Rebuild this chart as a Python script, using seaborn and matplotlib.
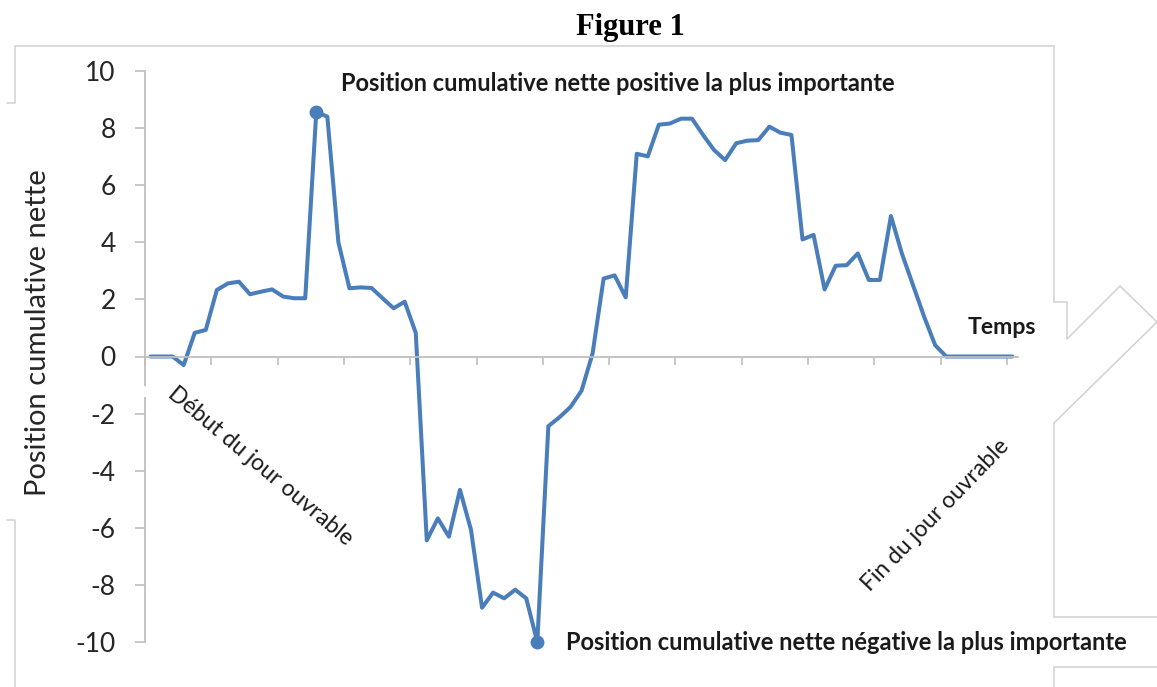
import numpy as np
import seaborn as sns
import matplotlib.pyplot as plt
from matplotlib.lines import Line2D
from matplotlib.patches import Rectangle

# cumulative net position, one value per time step over the working day
positions = [0, 0, 0, -0.3, 0.83, 0.93, 2.33, 2.56, 2.62, 2.18, 2.27, 2.35, 2.1, 2.04, 2.04,
             8.57, 8.4, 4.0, 2.39, 2.42, 2.4, 2.04, 1.69, 1.92, 0.83,
             -6.44, -5.67, -6.31, -4.67, -6.07, -8.8, -8.27, -8.47, -8.17, -8.47, -10.0,
             -2.44, -2.13, -1.77, -1.2, 0.1, 2.73, 2.84, 2.07, 7.1, 7.01, 8.12, 8.16, 8.33, 8.33,
             7.76, 7.23, 6.88, 7.47, 7.56, 7.58, 8.05, 7.84, 7.76, 4.1, 4.26, 2.35, 3.18, 3.2,
             3.61, 2.68, 2.68, 4.92, 3.6, 2.5, 1.4, 0.4, 0, 0, 0, 0, 0, 0, 0]
steps = list(range(len(positions)))
y_ticks = list(range(-10, 11, 2))

title = "Figure 1"
y_label = "Position cumulative nette"
label_max = "Position cumulative nette positive la plus importante"
label_min = "Position cumulative nette négative la plus importante"
label_time = "Temps"
label_start = "Début du jour ouvrable"
label_end = "Fin du jour ouvrable"

BLUE = "#4A7EBB"
AXIS_GREY = "#BFBFBF"
FRAME_GREY = "#D4D4D4"
TEXT = "#1a1a1a"
W, H = 1157, 687

sns.set_theme(style="white")
plt.rcParams["font.family"] = ["Lato", "DejaVu Sans"]
plt.rcParams["axes.unicode_minus"] = False


def px(x, y):
    return x / W, 1 - y / H


fig = plt.figure(figsize=(W / 100, H / 100), dpi=100)
ax = fig.add_axes([145 / W, 1 - 642 / H, 873 / W, 571 / H])

peak = int(np.argmax(positions))
trough = int(np.argmin(positions))

sns.lineplot(x=steps, y=positions, ax=ax, color=BLUE, linewidth=2.9,
             marker="o", markevery=[peak, trough], markersize=10,
             markeredgewidth=0, markerfacecolor=BLUE, clip_on=False)

ax.set_xlim(-0.5, len(positions) - 0.5)
ax.set_ylim(-10, 10)
ax.set_yticks(y_ticks)
ax.set_xticks(np.arange(-0.5, len(positions), 6))
ax.set_xlabel("")
ax.set_ylabel("")

for side in ["top", "right"]:
    ax.spines[side].set_visible(False)
ax.spines["bottom"].set_position(("data", 0))
for side in ["bottom", "left"]:
    ax.spines[side].set_color(AXIS_GREY)
    ax.spines[side].set_linewidth(1.3)

ax.tick_params(axis="x", bottom=True, direction="out", length=6, width=1.2,
               color=AXIS_GREY, labelbottom=False)
ax.tick_params(axis="y", left=True, direction="out", length=7, width=1.2,
               color=AXIS_GREY, pad=14, labelsize=19, labelcolor="#262626")

ax.annotate(label_max, xy=(peak, positions[peak]), xytext=(25, 28),
            textcoords="offset pixels", ha="left", va="center",
            fontsize=17, fontweight="bold", color=TEXT)
ax.annotate(label_min, xy=(trough, positions[trough]), xytext=(29, 0),
            textcoords="offset pixels", ha="left", va="center",
            fontsize=17, fontweight="bold", color=TEXT)
ax.text(73.9, 1.03, label_time, ha="left", va="center",
        fontsize=16.6, fontweight="bold", color=TEXT)
ax.text(9.9, -3.84, label_start, rotation=-40, rotation_mode="anchor",
        ha="center", va="center", fontsize=16.5, color=TEXT)
ax.text(71.0, -5.55, label_end, rotation=46, rotation_mode="anchor",
        ha="center", va="center", fontsize=16.5, color=TEXT)

fig.text(*px(38, 333), y_label, rotation=90, ha="center", va="center",
         fontsize=21, color="#262626")
fig.text(*px(630, 28), title, ha="center", va="center", fontsize=22,
         fontweight="bold", family="Liberation Serif", color="black")

# leftover frame pieces from the scanned page
frame = [
    [(7, 103), (15, 103), (15, 46), (1054, 46), (1054, 302), (1067, 302),
     (1067, 339), (1120, 286), (1157, 322)],
    [(1157, 322), (1054, 423), (1054, 617), (1157, 617)],
    [(7, 520), (15, 520), (15, 687)],
    [(1157, 667), (1054, 667), (1054, 687)],
]
for piece in frame:
    xs, ys = zip(*[px(x, y) for x, y in piece])
    fig.add_artist(Line2D(xs, ys, transform=fig.transFigure,
                          color=FRAME_GREY, linewidth=1.2))

# small break in the vertical axis
fig.add_artist(Rectangle(px(140, 397), 10 / W, 11 / H, transform=fig.transFigure,
                         facecolor="white", edgecolor="none", zorder=5))

fig.savefig("out.png", dpi=100)
